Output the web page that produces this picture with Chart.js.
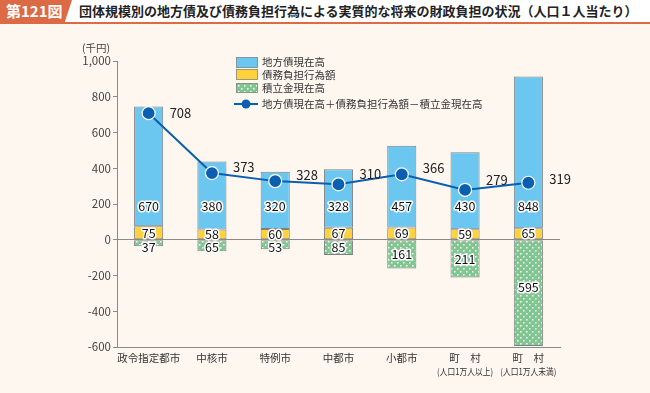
<!DOCTYPE html>
<html>
<head>
<meta charset="utf-8">
<script src="https://cdn.jsdelivr.net/npm/chart.js@4/dist/chart.umd.min.js"></script>
<style>
  body { margin: 0; width: 650px; height: 393px; background: #fef7f0; overflow: hidden; font-family: "Noto Sans CJK JP", sans-serif; }
  #head { position: absolute; left: 0; top: 0; width: 650px; height: 22px; background: #fff; border-bottom: 2px solid #dc6a44; }
  #fig { position: absolute; left: 0; top: 0; height: 22px; width: 72px; background: #dc6a44; color: #fff; font-size: 15px; font-weight: bold; line-height: 22px; padding-left: 6px; box-sizing: border-box; clip-path: polygon(0 0, 100% 0, 90% 100%, 0 100%); }
  #title { position: absolute; left: 79px; top: 0; line-height: 22px; font-size: 13px; font-weight: bold; color: #222; white-space: nowrap; }
  #wrap { position: absolute; left: 0; top: 27px; width: 650px; height: 366px; }
</style>
</head>
<body>
<div id="head"><div id="fig">第121図</div><div id="title">団体規模別の地方債及び債務負担行為による実質的な将来の財政負担の状況（人口１人当たり）</div></div>
<div id="wrap"><canvas id="c" width="650" height="366"></canvas></div>
<script>
// data
const categories = ['政令指定都市', '中核市', '特例市', '中都市', '小都市', ['町　村', '(人口1万人以上)'], ['町　村', '(人口1万人未満)']];
const debtValues = [670, 380, 320, 328, 457, 430, 848];
const burdenValues = [75, 58, 60, 67, 69, 59, 65];
const reserveValues = [-37, -65, -53, -85, -161, -211, -595];
const netValues = [708, 373, 328, 310, 366, 279, 319];
const yTicks = [-600, -400, -200, 0, 200, 400, 600, 800, 1000];
const legendLabels = ['地方債現在高', '債務負担行為額', '積立金現在高', '地方債現在高＋債務負担行為額－積立金現在高'];

const BLUE = '#6cc7f0', YELLOW = '#ffd13c', GREEN = '#80c690', LINE = '#0a5fb0';
const FONT = '"Noto Sans CJK JP", sans-serif';

// dotted green fill
function dotPattern() {
    const p = document.createElement('canvas');
    p.width = 6; p.height = 6;
    const g = p.getContext('2d');
    g.fillStyle = GREEN;
    g.fillRect(0, 0, 6, 6);
    g.fillStyle = '#ffffff';
    g.fillRect(1, 1, 1.5, 1.5);
    g.fillRect(4, 4, 1.5, 1.5);
    return document.getElementById('c').getContext('2d').createPattern(p, 'repeat');
}
const greenFill = dotPattern();

function outlined(ctx, text, x, y, align) {
    ctx.textAlign = align || 'center';
    ctx.textBaseline = 'middle';
    ctx.lineJoin = 'round';
    ctx.lineWidth = 3;
    ctx.strokeStyle = '#ffffff';
    ctx.strokeText(text, x, y);
    ctx.fillStyle = '#111';
    ctx.fillText(text, x, y);
}

const labelPlugin = {
    id: 'labels',
    afterDatasetsDraw(chart) {
        const ctx = chart.ctx;
        const y = chart.scales.y;
        const zero = y.getPixelForValue(0);
        ctx.save();
        ctx.font = '12.5px ' + FONT;
        const line = chart.getDatasetMeta(0);
        const yellow = chart.getDatasetMeta(1);
        const blue = chart.getDatasetMeta(2);
        const green = chart.getDatasetMeta(3);
        blue.data.forEach((b, i) => outlined(ctx, String(debtValues[i]), b.x, y.getPixelForValue(190)));
        yellow.data.forEach((b, i) => outlined(ctx, String(burdenValues[i]), b.x, (b.y + b.base) / 2));
        green.data.forEach((b, i) => {
            const mid = Math.min(Math.max((b.y + b.base) / 2, zero + 7), zero + 47);
            outlined(ctx, String(-reserveValues[i]), b.x, mid);
        });
        // net labels sit right of the point, lifted above the line where it passes under them
        ctx.font = '13px ' + FONT;
        ctx.fillStyle = '#222';
        ctx.textAlign = 'left';
        ctx.textBaseline = 'middle';
        line.data.forEach((p, i) => {
            const next = line.data[i + 1];
            let ly = p.y - 4;
            if (next) {
                const lineY = p.y + (next.y - p.y) * 30 / (next.x - p.x);
                ly = Math.abs(lineY - p.y) < 15 ? Math.min(p.y, lineY) - 6 : p.y;
            }
            ctx.fillText(String(netValues[i]), p.x + 21, ly);
        });
        ctx.restore();
    },
    afterDraw(chart) {
        const ctx = chart.ctx;
        const x = chart.scales.x;
        const bottom = chart.chartArea.bottom;
        ctx.save();
        // category labels
        ctx.fillStyle = '#333';
        ctx.textAlign = 'center';
        ctx.textBaseline = 'middle';
        categories.forEach((c, i) => {
            const cx = x.getPixelForValue(i);
            const lines = Array.isArray(c) ? c : [c];
            ctx.font = '10.5px ' + FONT;
            ctx.fillText(lines[0], cx, bottom + 11);
            if (lines[1]) {
                ctx.save();
                ctx.font = '9px ' + FONT;
                ctx.translate(cx, bottom + 25);
                ctx.scale(0.86, 1);
                ctx.fillText(lines[1], 0, 0);
                ctx.restore();
            }
        });
        // unit
        ctx.font = '10.5px ' + FONT;
        ctx.fillStyle = '#444';
        ctx.fillText('(千円)', 96, 21);
        // legend
        const lx = 236, tx = 262;
        const rows = [[30, 41, BLUE], [42, 53, YELLOW], [56, 66, greenFill]];
        rows.forEach(r => {
            ctx.fillStyle = r[2];
            ctx.fillRect(lx, r[0], 22, r[1] - r[0]);
            ctx.strokeStyle = '#888';
            ctx.lineWidth = 0.8;
            ctx.strokeRect(lx + 0.5, r[0] + 0.5, 21, r[1] - r[0] - 1);
        });
        ctx.strokeStyle = LINE;
        ctx.lineWidth = 2;
        ctx.beginPath();
        ctx.moveTo(234, 77); ctx.lineTo(258, 77);
        ctx.stroke();
        ctx.fillStyle = LINE;
        ctx.beginPath();
        ctx.arc(246, 77, 4.5, 0, Math.PI * 2);
        ctx.fill();
        ctx.font = '10.5px ' + FONT;
        ctx.fillStyle = '#333';
        ctx.textAlign = 'left';
        [35.5, 48, 61, 77].forEach((ty, i) => ctx.fillText(legendLabels[i], tx, ty));
        ctx.restore();
    }
};

new Chart(document.getElementById('c'), {
    data: {
        labels: categories,
        datasets: [
            {
                type: 'line',
                data: netValues,
                borderColor: LINE,
                borderWidth: 2,
                pointRadius: 6.5,
                pointBackgroundColor: LINE,
                pointBorderColor: '#ffffff',
                pointBorderWidth: 1.2,
                stack: 'net',
                order: 0
            },
            {
                type: 'bar', data: burdenValues, backgroundColor: YELLOW,
                borderColor: '#808080', borderWidth: 1, borderSkipped: false, stack: 'bars', order: 1
            },
            {
                type: 'bar', data: debtValues, backgroundColor: BLUE,
                borderColor: '#808080', borderWidth: 1, borderSkipped: false, stack: 'bars', order: 1
            },
            {
                type: 'bar', data: reserveValues, backgroundColor: greenFill,
                borderColor: '#808080', borderWidth: 1, borderSkipped: false, stack: 'bars', order: 1
            }
        ]
    },
    options: {
        responsive: false,
        animation: false,
        layout: { padding: { left: 0, right: 90, top: 34, bottom: 0 } },
        plugins: { legend: { display: false }, tooltip: { enabled: false } },
        datasets: { bar: { categoryPercentage: 1, barPercentage: 0.46 } },
        scales: {
            x: {
                stacked: true,
                grid: { display: false, drawTicks: false },
                border: { display: true, color: '#8a8a8a', width: 1 },
                ticks: { display: false },
                afterFit(scale) { scale.height = 46; }
            },
            y: {
                stacked: true,
                min: -600,
                max: 1000,
                afterBuildTicks(scale) { scale.ticks = yTicks.map(v => ({ value: v })); },
                grid: {
                    drawOnChartArea: true,
                    color: c => (c.tick && c.tick.value === 0) ? '#8a8a8a' : 'rgba(0,0,0,0)',
                    tickColor: '#8a8a8a',
                    tickLength: 4
                },
                border: { display: true, color: '#8a8a8a', width: 1 },
                ticks: {
                    color: '#444',
                    font: { family: FONT, size: 11.5 },
                    padding: 2,
                    callback: v => v.toLocaleString('en-US')
                },
                afterFit(scale) { scale.width = 117; }
            }
        }
    },
    plugins: [labelPlugin]
});
</script>
</body>
</html>
